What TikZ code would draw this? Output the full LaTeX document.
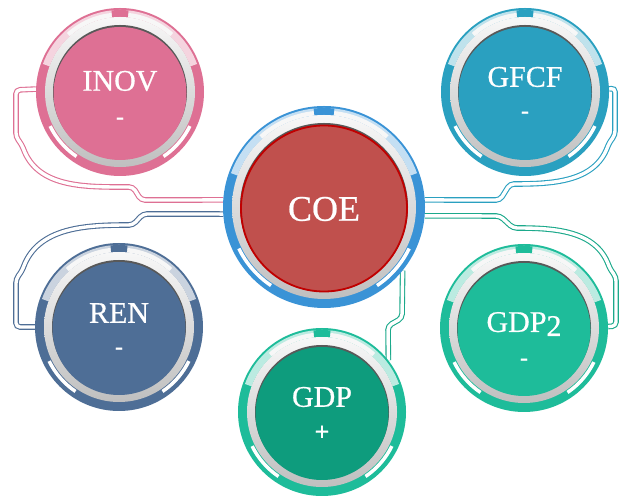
\documentclass[tikz,border=0pt]{standalone}
\usepackage{fontspec}
\setmainfont{Liberation Serif}
\newfontfamily\tagfont[FakeBold=0.6]{Liberation Serif}
\usepackage{xcolor}
\usetikzlibrary{calc}
\definecolor{pinkc}{HTML}{DE7094}
\definecolor{tealc}{HTML}{2AA0C0}
\definecolor{bluec}{HTML}{3A93D6}
\definecolor{redc}{HTML}{C0504D}
\definecolor{rimc}{HTML}{C00000}
\definecolor{slatec}{HTML}{4E6E96}
\definecolor{greenc}{HTML}{1EBC9A}
\definecolor{deepc}{HTML}{0E9C7D}
\tikzset{
  px/.style={x=1pt, y=1pt},
  b node/.style={circle, minimum size=168pt, inner sep=0pt},
  b big/.style={circle, minimum size=202pt, inner sep=0pt},
  b tag/.style={text=white, inner sep=0pt, font=\tagfont\fontsize{30}{30}\selectfont},
  b sign/.style={text=white, inner sep=0pt, font=\tagfont\fontsize{24}{24}\selectfont\bfseries},
  c link/.style={draw=#1, line width=1.1pt, double=white, double distance=3.4pt, rounded corners=4pt},
}

% one ring segment between two radii
\newcommand{\segfill}[5]{%
  \fill[#1] (#2:#4) arc[start angle=#2, end angle=#3, radius=#4]
    -- (#3:#5) arc[start angle=#3, end angle=#2, radius=#5] -- cycle;}

% badge: node, ring colour, disc colour, outer radius, disc radius
\newcommand{\badge}[5]{%
  \begin{scope}[shift={(#1.center)}]
    \pgfmathsetmacro\ri{#5+8}
    \pgfmathsetmacro\rg{#5+9}
    \pgfmathsetmacro\rw{#4-4.5}
    \pgfmathsetmacro\rp{#4-2}
    \pgfmathsetmacro\rd{#5-0.5}
    \fill[#2] (0,0) circle (#4);
    \segfill{#2!30}{20}{160}{\ri}{\rp}
    \segfill{gray!6}{48}{132}{\ri}{\rw}
    \segfill{#2}{84}{96}{\ri}{\rp}
    \segfill{white}{206}{236}{\rg}{\rw}
    \segfill{white}{304}{334}{\rg}{\rw}
    \shade[top color=gray!6, bottom color=gray!50] (0,0) circle (\ri);
    \fill[gray!70!black] (0,0) circle (#5);
    \fill[#3] (0,-1.5) circle (\rd);
  \end{scope}}

\begin{document}
\begin{tikzpicture}[px]
\useasboundingbox (0,0) rectangle (623,497);
\node[b big] (coe) at (324,290) {};
\node[b node] (inov) at (120,405) {};
\node[b node] (gfcf) at (525,405) {};
\node[b node] (ren) at (119,170) {};
\node[b node] (gdp2) at (524,169) {};
\node[b node] (gdp) at (322,85) {};

% links out of the centre
\draw[c link=pinkc] (coe.176) -- (141,297) -- (133,310) to[out=180,in=-70] (22,352) -- (16,360) -- (16,407) -- (inov.178);
\draw[c link=slatec] (coe.184) -- (143,283) -- (133,272) to[out=180,in=70] (22,226) -- (16,218) -- (16,170) -- (ren.west);
\draw[c link=tealc] (coe.4) -- (500,297) -- (510,313) to[out=0,in=-110] (609,354) -- (615,362) -- (615,409) -- (gfcf.2);
\draw[c link=greenc!90!black] (coe.355) -- (500,281) -- (513,269) to[out=0,in=110] (610,228) -- (616,220) -- (616,171) -- (gdp2.1);
\draw[c link=greenc!90!black] (coe.321) -- (402,179) -- (388,171) -- (gdp.38);

\badge{coe}{bluec}{redc}{101}{84}
\draw[rimc, line width=1.8pt] ([yshift=-1.5pt]coe.center) circle (83);
\badge{inov}{pinkc}{pinkc}{84}{67}
\badge{gfcf}{tealc}{tealc}{84}{67}
\badge{ren}{slatec}{slatec}{84}{67}
\badge{gdp2}{greenc}{greenc}{84}{67}
\badge{gdp}{greenc}{deepc}{84}{67}

\node[b tag, font=\tagfont\fontsize{36}{36}\selectfont] (coe-t) at ([yshift=-2pt]coe.center) {COE};
\node[b tag] (inov-t) at ([yshift=11pt]inov.center) {INOV};
\node[b sign] (inov-s) at ([yshift=-29pt]inov.center) {-};
\node[b tag] (gfcf-t) at ([yshift=15pt]gfcf.center) {GFCF};
\node[b sign] (gfcf-s) at ([yshift=-23pt]gfcf.center) {-};
\node[b tag] (ren-t) at ([yshift=14pt]ren.center) {REN};
\node[b sign] (ren-s) at ([yshift=-24pt]ren.center) {-};
\node[b tag] (gdp2-t) at ([yshift=4pt]gdp2.center) {GDP\raisebox{-4pt}{2}};
\node[b sign] (gdp2-s) at ([yshift=-34pt]gdp2.center) {-};
\node[b tag] (gdp-t) at ([yshift=15pt]gdp.center) {GDP};
\node[b sign, font=\tagfont\fontsize{26}{26}\selectfont\bfseries] (gdp-s) at ([yshift=-21pt]gdp.center) {+};
\end{tikzpicture}
\end{document}
